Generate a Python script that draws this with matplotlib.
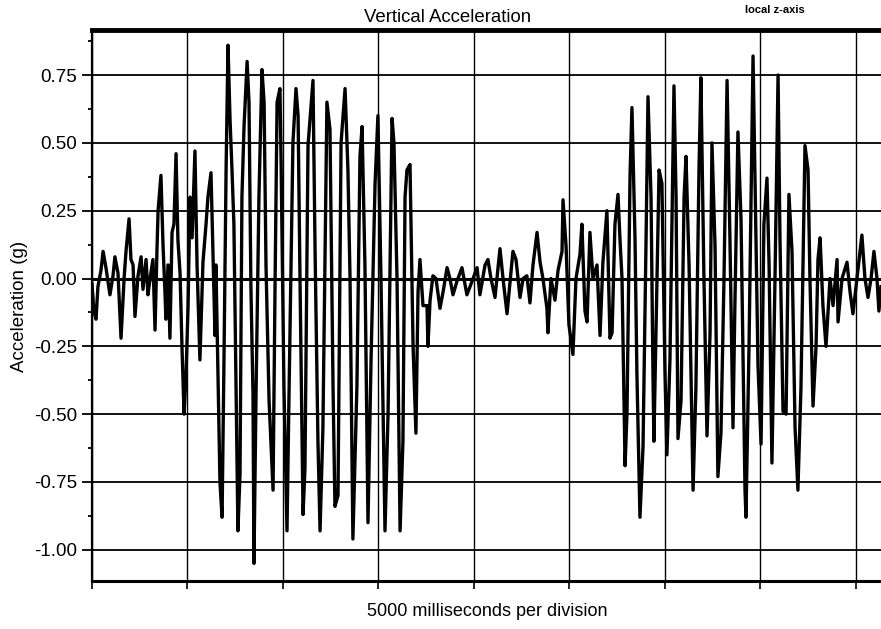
import matplotlib
matplotlib.use("Agg")
import matplotlib.pyplot as plt
from matplotlib.ticker import MultipleLocator, NullFormatter

plt.rcParams["font.family"] = ["Liberation Sans", "DejaVu Sans"]

# ─── Data (time in seconds, acceleration in g) ───────────────────────────────

time_s = [
    0.00, 0.10, 0.21, 0.31, 0.47, 0.58, 0.73, 0.94, 1.10, 1.20,
    1.36, 1.52, 1.68, 1.78, 1.94, 2.04, 2.15, 2.25, 2.41, 2.57,
    2.67, 2.83, 2.93, 3.04, 3.19, 3.30, 3.40, 3.46, 3.61, 3.72,
    3.82, 3.87, 3.98, 4.08, 4.19, 4.29, 4.40, 4.50, 4.61, 4.71,
    4.82, 4.92, 5.03, 5.13, 5.24, 5.39, 5.50, 5.65, 5.81, 5.97,
    6.07, 6.23, 6.34, 6.44, 6.49, 6.60, 6.70, 6.81, 6.91, 7.02,
    7.12, 7.23, 7.33, 7.43, 7.54, 7.64, 7.75, 7.85, 7.96, 8.12,
    8.22, 8.32, 8.43, 8.48, 8.59, 8.74, 8.90, 9.01, 9.11, 9.27,
    9.48, 9.58, 9.69, 9.84, 9.90, 10.05, 10.21, 10.31, 10.52, 10.68,
    10.79, 10.89, 11.05, 11.15, 11.31, 11.57, 11.68, 11.83, 11.94, 12.09,
    12.30, 12.46, 12.62, 12.72, 12.88, 13.04, 13.25, 13.40, 13.51, 13.66,
    13.87, 14.03, 14.14, 14.29, 14.45, 14.61, 14.82, 14.97, 15.13, 15.34,
    15.50, 15.71, 15.81, 15.97, 16.13, 16.28, 16.39, 16.49, 16.65, 16.81,
    16.96, 17.07, 17.17, 17.33, 17.54, 17.59, 17.70, 17.85, 18.01, 18.22,
    18.38, 18.59, 18.74, 18.90, 19.11, 19.37, 19.63, 19.90, 20.16, 20.31,
    20.58, 20.73, 20.89, 21.10, 21.36, 21.52, 21.73, 21.88, 22.04, 22.20,
    22.41, 22.57, 22.77, 22.93, 23.09, 23.30, 23.46, 23.61, 23.82, 23.87,
    24.03, 24.24, 24.40, 24.61, 24.66, 24.82, 24.97, 25.18, 25.34, 25.55,
    25.65, 25.81, 25.92, 26.07, 26.23, 26.44, 26.60, 26.75, 26.96, 27.12,
    27.23, 27.38, 27.54, 27.64, 27.75, 27.85, 27.91, 28.01, 28.17, 28.27,
    28.43, 28.53, 28.69, 28.85, 29.01, 29.11, 29.27, 29.37, 29.42, 29.58,
    29.69, 29.84, 30.00, 30.10, 30.26, 30.47, 30.58, 30.68, 30.84, 31.00,
    31.10, 31.26, 31.47, 31.62, 31.78, 31.88, 32.04, 32.20, 32.36, 32.46,
    32.62, 32.77, 32.93, 33.09, 33.25, 33.40, 33.56, 33.66, 33.82, 33.98,
    34.19, 34.24, 34.40, 34.55, 34.61, 34.76, 34.87, 35.03, 35.18, 35.34,
    35.45, 35.60, 35.76, 35.92, 36.02, 36.18, 36.34, 36.49, 36.65, 36.81,
    36.96, 37.12, 37.33, 37.49, 37.59, 37.75, 37.91, 38.01, 38.12, 38.27,
    38.43, 38.64, 38.80, 39.01, 39.06, 39.27, 39.53, 39.69, 39.84, 40.05,
    40.31, 40.47, 40.63, 40.79, 40.94, 41.10, 41.20, 41.31,
]

accel_g = [
    -0.02, -0.12, -0.15, -0.03, 0.03, 0.10, 0.04, -0.06, 0.01, 0.08,
    0.02, -0.22, 0.00, 0.10, 0.22, 0.07, 0.05, -0.14, 0.01, 0.08,
    -0.04, 0.07, -0.06, 0.00, 0.07, -0.19, 0.10, 0.25, 0.38, 0.12,
    -0.05, -0.15, 0.05, -0.22, 0.17, 0.20, 0.46, 0.14, 0.02, -0.25,
    -0.50, -0.36, -0.10, 0.30, 0.15, 0.47, 0.05, -0.30, 0.06, 0.20,
    0.30, 0.39, 0.08, -0.21, 0.05, -0.36, -0.75, -0.88, -0.30, 0.40,
    0.86, 0.58, 0.40, 0.20, -0.40, -0.93, -0.72, 0.30, 0.56, 0.80,
    0.65, -0.03, -0.43, -1.05, -0.42, 0.30, 0.77, 0.65, 0.05, -0.45,
    -0.78, -0.05, 0.65, 0.70, 0.43, -0.40, -0.93, -0.45, 0.50, 0.70,
    0.60, 0.00, -0.87, -0.70, 0.49, 0.73, 0.10, -0.60, -0.93, -0.55,
    0.65, 0.55, -0.40, -0.84, -0.80, 0.50, 0.70, 0.40, 0.00, -0.96,
    -0.40, 0.45, 0.56, 0.05, -0.90, -0.30, 0.35, 0.60, 0.00, -0.93,
    -0.50, 0.59, 0.50, 0.00, -0.93, -0.60, 0.30, 0.40, 0.42, -0.25,
    -0.57, -0.05, 0.07, -0.10, -0.10, -0.25, -0.08, 0.01, 0.00, -0.11,
    -0.05, 0.04, 0.00, -0.06, -0.01, 0.04, -0.06, -0.01, 0.04, -0.06,
    0.05, 0.07, 0.00, -0.07, 0.11, 0.00, -0.13, -0.02, 0.10, 0.07,
    -0.07, 0.00, 0.01, -0.09, 0.05, 0.17, 0.06, 0.00, -0.11, -0.20,
    0.00, -0.08, 0.03, 0.10, 0.29, 0.12, -0.17, -0.28, 0.00, 0.09,
    0.20, -0.12, -0.16, 0.17, 0.00, 0.05, -0.21, 0.06, 0.25, -0.22,
    -0.20, 0.20, 0.31, 0.15, 0.00, -0.43, -0.69, -0.50, 0.38, 0.63,
    0.15, -0.35, -0.88, -0.62, 0.15, 0.67, 0.30, -0.35, -0.60, 0.00,
    0.40, 0.35, -0.35, -0.65, -0.30, 0.71, 0.30, -0.59, -0.45, 0.30,
    0.45, 0.05, -0.78, -0.40, 0.40, 0.74, 0.00, -0.58, -0.20, 0.50,
    0.12, -0.73, -0.57, 0.00, 0.73, 0.15, -0.55, -0.10, 0.54, 0.22,
    -0.78, -0.88, -0.25, 0.50, 0.82, 0.15, -0.32, -0.61, 0.20, 0.37,
    0.05, -0.68, 0.00, 0.75, 0.15, -0.49, -0.50, 0.31, 0.10, -0.55,
    -0.78, -0.40, 0.49, 0.40, 0.00, -0.47, -0.25, 0.07, 0.15, -0.10,
    -0.25, 0.00, -0.10, 0.07, -0.16, 0.00, 0.06, -0.05, -0.13, 0.00,
    0.16, 0.00, -0.07, 0.00, 0.10, 0.00, -0.12, -0.03,
]

y_ticks = [-1.00, -0.75, -0.50, -0.25, 0.00, 0.25, 0.50, 0.75]
DIVISION_S = 5.0

# ─── Figure ───────────────────────────────────────────────────────────────────

W, H = 881, 629
fig = plt.figure(figsize=(W / 100, H / 100), dpi=100, facecolor="white")
ax = fig.add_axes([92 / W, 1 - 581 / H, (W - 92) / W, (581 - 30) / H])

# grid first so the trace sits on top
for yv in y_ticks:
    ax.axhline(yv, color="black", lw=2.2 if yv == 0 else 1.3, zorder=1)
ax.xaxis.set_major_locator(MultipleLocator(DIVISION_S))
ax.grid(axis="x", color="black", lw=1.0, zorder=1)

ax.plot(time_s, accel_g, color="black", lw=2.4, solid_joinstyle="round", zorder=3)

ax.set_xlim(0, 41.31)
ax.set_ylim(-1.115, 0.916)
ax.set_yticks(y_ticks)
ax.set_yticklabels([f"{v:.2f}" for v in y_ticks])
ax.yaxis.set_minor_locator(MultipleLocator(0.125))
ax.xaxis.set_major_formatter(NullFormatter())

ax.tick_params(axis="y", which="major", length=7, width=1.3, pad=3.6, labelsize=13.5)
ax.tick_params(axis="y", which="minor", length=3, width=1.3)
ax.tick_params(axis="x", which="major", length=6, width=1.2, direction="out")

ax.spines["right"].set_visible(False)
ax.spines["top"].set_linewidth(3.5)
ax.spines["bottom"].set_linewidth(2.2)
ax.spines["left"].set_linewidth(1.6)

# ─── Text ─────────────────────────────────────────────────────────────────────

fig.text(448 / W, 1 - 17 / H, "Vertical Acceleration", ha="center", va="center",
         fontsize=13.4)
fig.text(775 / W, 1 - 10 / H, "local z-axis", ha="center", va="center",
         fontsize=8, fontweight="bold")
fig.text(20 / W, 1 - 306 / H, "Acceleration (g)", ha="center", va="center",
         rotation=90, fontsize=13.5)
fig.text(487 / W, 1 - 612 / H, "5000 milliseconds per division", ha="center",
         va="center", fontsize=13)

fig.savefig("out.png", dpi=100)
